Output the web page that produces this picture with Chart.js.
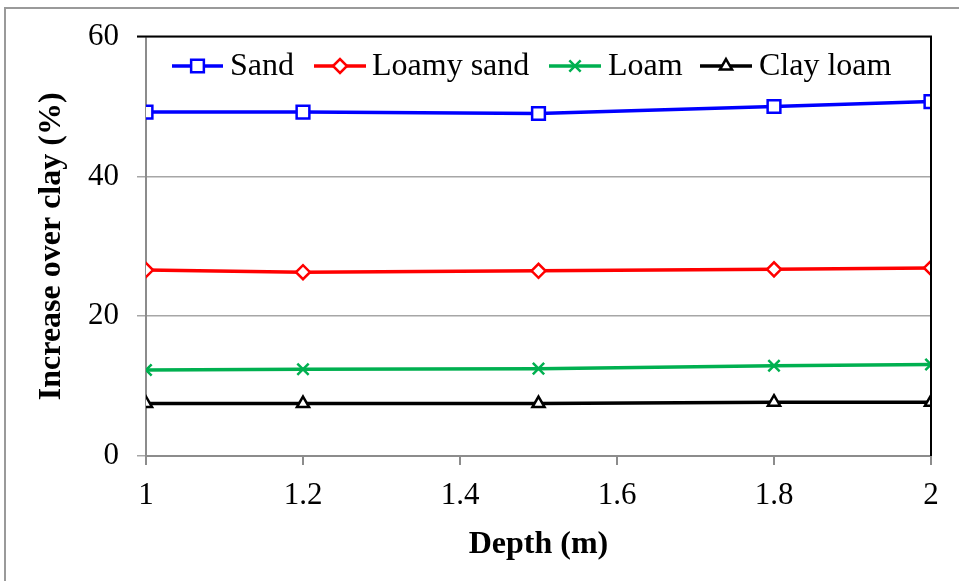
<!DOCTYPE html>
<html>
<head>
<meta charset="utf-8">
<script src="https://cdn.jsdelivr.net/npm/chart.js@4/dist/chart.umd.min.js"></script>
<style>
  html, body { margin: 0; padding: 0; background: #fff; }
  #wrap { width: 959px; height: 581px; position: relative; }
</style>
</head>
<body>
<div id="wrap"><canvas id="c" width="959" height="581"></canvas></div>
<script>
// Depth values (m) and percentage increase over clay for each soil texture
const depths = [1.0, 1.2, 1.5, 1.8, 2.0];
const sand = [49.2, 49.2, 49.0, 50.0, 50.7];
const loamySand = [26.6, 26.3, 26.5, 26.7, 26.9];
const loam = [12.3, 12.4, 12.5, 12.9, 13.1];
const clayLoam = [7.5, 7.5, 7.5, 7.7, 7.7];
const seriesNames = ['Sand', 'Loamy sand', 'Loam', 'Clay loam'];
const yTicks = [0, 20, 40, 60];
const xTicks = [1, 1.2, 1.4, 1.6, 1.8, 2];

const FONT = '"Liberation Serif", "Times New Roman", serif';

function pts(vals) { return vals.map((v, i) => ({ x: depths[i], y: v })); }

const styles = [
  { color: '#0000FF', pointStyle: 'rect', radius: 9, fill: '#FFFFFF' },
  { color: '#FF0000', pointStyle: 'rectRot', radius: 7, fill: '#FFFFFF' },
  { color: '#00B050', pointStyle: 'crossRot', radius: 8, fill: '#00B050' },
  { color: '#000000', pointStyle: 'triangle', radius: 7, fill: '#FFFFFF' }
];
const seriesData = [sand, loamySand, loam, clayLoam];

const datasets = seriesData.map((vals, i) => ({
  label: seriesNames[i],
  data: pts(vals),
  borderColor: styles[i].color,
  backgroundColor: styles[i].fill,
  borderWidth: 3.5,
  pointStyle: styles[i].pointStyle,
  pointRadius: styles[i].radius,
  pointBorderWidth: 2.5,
  pointBorderColor: styles[i].color,
  pointBackgroundColor: styles[i].fill,
  tension: 0,
  fill: false
}));

function drawMarker(ctx, s, x, y) {
  ctx.save();
  ctx.fillStyle = s.fill;
  ctx.strokeStyle = s.color;
  ctx.lineWidth = 2.5;
  Chart.helpers.drawPoint(ctx, { pointStyle: s.pointStyle, radius: s.radius, borderWidth: 2.5, rotation: 0 }, x, y);
  ctx.restore();
}

// Outer frame, black top/right plot border and the in-plot legend
const decorations = {
  id: 'decorations',
  beforeDraw(chart) {
    const ctx = chart.ctx;
    ctx.save();
    ctx.fillStyle = '#fff';
    ctx.fillRect(0, 0, chart.width, chart.height);
    ctx.strokeStyle = '#9a9a9a';
    ctx.lineWidth = 2;
    ctx.beginPath();
    ctx.moveTo(5, chart.height);
    ctx.lineTo(5, 8);
    ctx.lineTo(chart.width, 8);
    ctx.stroke();
    ctx.restore();
  },
  afterDraw(chart) {
    const ctx = chart.ctx;
    const a = chart.chartArea;
    ctx.save();
    ctx.strokeStyle = '#000';
    ctx.lineWidth = 2;
    ctx.beginPath();
    ctx.moveTo(a.left - 9, a.top);
    ctx.lineTo(a.right, a.top);
    ctx.lineTo(a.right, a.bottom);
    ctx.stroke();

    // legend
    const legendY = 66;
    const entries = [
      { x0: 172, x1: 223, tx: 230 },
      { x0: 314, x1: 366, tx: 372 },
      { x0: 549, x1: 601, tx: 608 },
      { x0: 700, x1: 752, tx: 759 }
    ];
    ctx.font = '32px ' + FONT;
    ctx.textBaseline = 'middle';
    ctx.textAlign = 'left';
    entries.forEach((e, i) => {
      const s = styles[i];
      ctx.strokeStyle = s.color;
      ctx.lineWidth = 3.5;
      ctx.beginPath();
      ctx.moveTo(e.x0, legendY);
      ctx.lineTo(e.x1, legendY);
      ctx.stroke();
      drawMarker(ctx, s, (e.x0 + e.x1) / 2, legendY);
      ctx.fillStyle = '#000';
      ctx.fillText(seriesNames[i], e.tx, legendY + 1);
    });
    ctx.restore();
  }
};

new Chart(document.getElementById('c'), {
  type: 'line',
  data: { datasets },
  plugins: [decorations],
  options: {
    responsive: false,
    animation: false,
    layout: { padding: { left: 0, top: 35, right: 28, bottom: 0 } },
    plugins: { legend: { display: false }, tooltip: { enabled: false } },
    scales: {
      x: {
        type: 'linear',
        min: 1,
        max: 2,
        afterBuildTicks(scale) { scale.ticks = xTicks.map(v => ({ value: v })); },
        afterFit(scale) { scale.height = 125; },
        border: { color: '#8c8c8c', width: 2 },
        grid: { drawOnChartArea: false, drawTicks: true, tickLength: 9, color: '#8c8c8c', lineWidth: 2 },
        ticks: {
          color: '#000',
          font: { family: FONT, size: 31 },
          padding: 12,
          maxRotation: 0,
          callback: v => String(+(+v).toFixed(1))
        },
        title: {
          display: true,
          text: 'Depth (m)',
          color: '#000',
          font: { family: FONT, size: 32, weight: 'bold' },
          padding: { top: 0, bottom: 17 }
        }
      },
      y: {
        min: 0,
        max: 60,
        afterBuildTicks(scale) { scale.ticks = yTicks.map(v => ({ value: v })); },
        afterFit(scale) { scale.width = 146; },
        border: { color: '#8c8c8c', width: 2 },
        grid: { color: '#a6a6a6', lineWidth: 1.5, tickLength: 9, drawTicks: true },
        ticks: {
          color: '#000',
          font: { family: FONT, size: 31 },
          padding: 18
        },
        title: {
          display: true,
          text: 'Increase over clay (%)',
          color: '#000',
          font: { family: FONT, size: 32, weight: 'bold' },
          padding: { top: 33, bottom: 0 }
        }
      }
    }
  }
});
</script>
</body>
</html>
